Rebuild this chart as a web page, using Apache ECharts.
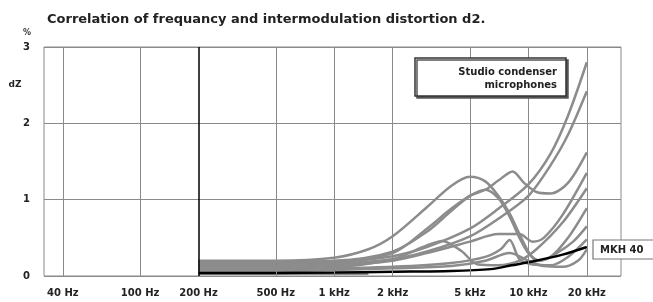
<!DOCTYPE html>
<html>
<head>
<meta charset="utf-8">
<script src="https://cdn.jsdelivr.net/npm/echarts@6/dist/echarts.min.js"></script>
<style>
  html, body { margin: 0; padding: 0; background: #fff; }
  #chart { width: 653px; height: 302px; }
</style>
</head>
<body>
<div id="chart"></div>
<script>
// frequency grid lines and their labels
const gridFreqs = [40, 100, 200, 500, 1000, 2000, 5000, 10000, 20000];
const gridLabels = ['40 Hz', '100 Hz', '200 Hz', '500 Hz', '1 kHz', '2 kHz', '5 kHz', '10 kHz', '20 kHz'];

// MKH 40 (black)
const mkh40 = [[200,0.04],[500,0.04],[1000,0.045],[2000,0.055],[4000,0.065],[6400,0.09],[8200,0.14],[10500,0.19],[15000,0.28],[20000,0.38]];

// studio condenser microphones (grey)
const mic1 = [[200,0.2],[500,0.2],[1000,0.24],[1500,0.35],[2000,0.52],[3000,0.9],[4000,1.18],[5000,1.3],[6000,1.24],[7000,1.05],[8000,0.82],[9000,0.55],[10000,0.32],[11000,0.2],[13000,0.25],[16000,0.5],[20000,0.89]];
const mic2 = [[200,0.19],[500,0.19],[1000,0.2],[2000,0.32],[3000,0.58],[4000,0.85],[5000,1.05],[6000,1.13],[7000,1.25],[8300,1.37],[9500,1.22],[11000,1.1],[13000,1.08],[16000,1.22],[20000,1.62]];
const mic3 = [[200,0.17],[500,0.17],[1000,0.19],[2000,0.3],[3000,0.62],[4000,0.88],[5000,1.05],[6000,1.13],[7000,1.02],[8000,0.78],[9000,0.5],[10000,0.3],[11500,0.2],[14000,0.3],[17000,0.45],[20000,0.65]];
const mic4 = [[200,0.16],[500,0.16],[1000,0.18],[2000,0.26],[3000,0.38],[5000,0.62],[7000,0.88],[10000,1.2],[13000,1.6],[16000,2.1],[20000,2.8]];
const mic5 = [[200,0.14],[500,0.14],[1000,0.16],[2000,0.22],[3000,0.32],[5000,0.52],[7000,0.75],[10000,1.05],[13000,1.45],[16000,1.85],[20000,2.42]];
const mic6 = [[200,0.13],[500,0.13],[1000,0.14],[2000,0.2],[3000,0.3],[5000,0.45],[7000,0.55],[9000,0.55],[10500,0.45],[12000,0.5],[15000,0.8],[20000,1.35]];
const mic7 = [[200,0.11],[500,0.11],[1000,0.12],[2000,0.22],[3000,0.4],[3600,0.46],[4500,0.33],[5500,0.15],[7000,0.14],[9000,0.2],[11000,0.35],[15000,0.7],[20000,1.15]];
const mic8 = [[200,0.09],[500,0.09],[1000,0.1],[2000,0.12],[4000,0.17],[6000,0.25],[7200,0.35],[8000,0.47],[9000,0.22],[10500,0.15],[13000,0.14],[16000,0.25],[20000,0.48]];
const mic9 = [[200,0.07],[500,0.07],[1000,0.08],[2000,0.1],[4000,0.13],[6000,0.2],[8000,0.3],[10000,0.2],[12000,0.13],[15000,0.12],[18000,0.2],[20000,0.35]];
const mic10 = [[200,0.03],[1500,0.03]];

const mics = [mic1, mic2, mic3, mic4, mic5, mic6, mic7, mic8, mic9, mic10];

const FONT = 'DejaVu Sans';
const chart = echarts.init(document.getElementById('chart'));

const markLines = gridFreqs.map(function (f, i) {
  return {
    xAxis: f,
    name: gridLabels[i],
    lineStyle: f === 200 ? { color: '#000', width: 1.5, type: 'solid' } : { color: '#8a8a8a', width: 1, type: 'solid' }
  };
});

const series = [{
  name: 'grid',
  type: 'line',
  data: [],
  z: 1,
  markLine: {
    silent: true,
    symbol: 'none',
    animation: false,
    lineStyle: { type: 'solid' },
    label: {
      show: true,
      position: 'start',
      distance: 12,
      formatter: '{b}',
      fontFamily: FONT,
      fontWeight: 'bold',
      fontSize: 10,
      color: '#222'
    },
    data: markLines
  }
}];

mics.forEach(function (d, i) {
  series.push({
    name: 'mic' + (i + 1),
    type: 'line',
    data: d,
    smooth: 0.3,
    showSymbol: false,
    z: 3,
    lineStyle: { color: '#8c8c8c', width: 2.5 }
  });
});

series.push({
  name: 'MKH 40',
  type: 'line',
  data: mkh40,
  smooth: 0.3,
  showSymbol: false,
  z: 4,
  lineStyle: { color: '#000', width: 2.5 }
});

chart.setOption({
  animation: false,
  backgroundColor: '#fff',
  title: {
    text: 'Correlation of frequancy and intermodulation distortion d2.',
    left: 42,
    top: 8,
    textStyle: { fontFamily: FONT, fontWeight: 'bold', fontSize: 13, color: '#222' }
  },
  grid: {
    left: 44, right: 32, top: 47, bottom: 26,
    show: true,
    borderColor: '#8a8a8a',
    borderWidth: 1
  },
  xAxis: {
    type: 'log',
    min: 32,
    max: 30000,
    axisLine: { show: false },
    axisTick: { show: false },
    axisLabel: { show: false },
    splitLine: { show: false },
    minorSplitLine: { show: false }
  },
  yAxis: {
    type: 'value',
    min: 0,
    max: 3,
    interval: 1,
    axisLine: { show: false },
    axisTick: { show: false },
    axisLabel: { margin: 14, fontFamily: FONT, fontWeight: 'bold', fontSize: 10, color: '#222' },
    splitLine: { lineStyle: { color: '#8a8a8a', width: 1 } }
  },
  graphic: [
    { type: 'text', z: 10, style: { text: '%', x: 27, y: 33, align: 'center', verticalAlign: 'middle', font: 'bold 8px ' + FONT, fill: '#333' } },
    { type: 'text', z: 10, style: { text: 'dZ', x: 15, y: 85, align: 'center', verticalAlign: 'middle', font: 'bold 9px ' + FONT, fill: '#222' } },
    { type: 'rect', z: 10, shape: { x: 415, y: 58, width: 151, height: 38 },
      style: { fill: '#fff', stroke: '#333', lineWidth: 1.5, shadowColor: '#555', shadowOffsetX: 2, shadowOffsetY: 2, shadowBlur: 0 } },
    { type: 'text', z: 11, style: { text: 'Studio condenser', x: 557, y: 72, align: 'right', verticalAlign: 'middle', font: 'bold 10px ' + FONT, fill: '#222' } },
    { type: 'text', z: 11, style: { text: 'microphones', x: 557, y: 85, align: 'right', verticalAlign: 'middle', font: 'bold 10px ' + FONT, fill: '#222' } },
    { type: 'rect', z: 10, shape: { x: 593, y: 240, width: 70, height: 19 },
      style: { fill: '#fff', stroke: '#777', lineWidth: 1.2 } },
    { type: 'text', z: 11, style: { text: 'MKH 40', x: 600, y: 250, align: 'left', verticalAlign: 'middle', font: 'bold 10px ' + FONT, fill: '#222' } }
  ],
  series: series
});
</script>
</body>
</html>
